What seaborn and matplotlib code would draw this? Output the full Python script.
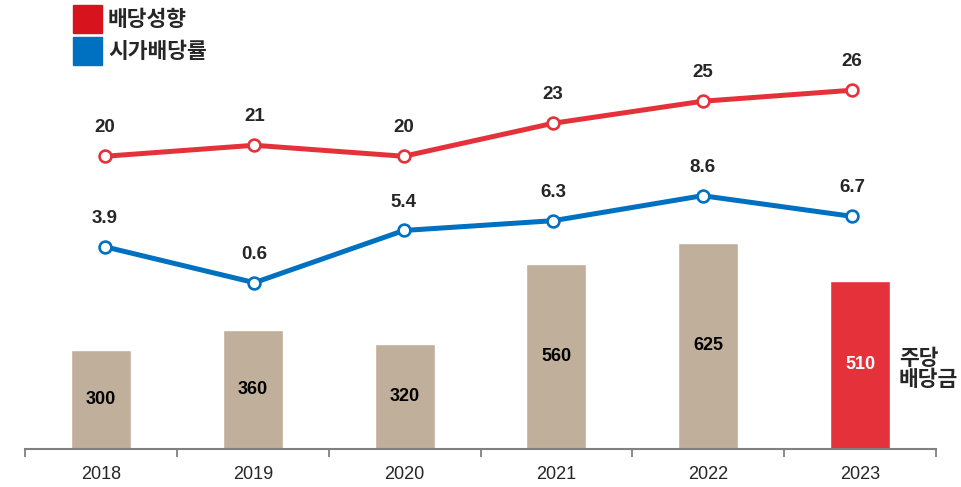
import numpy as np
import pandas as pd
import matplotlib
matplotlib.use("Agg")
import matplotlib.pyplot as plt
import matplotlib.patches as mpatches
import seaborn as sns

# Data
years = ["2018", "2019", "2020", "2021", "2022", "2023"]
dps = [300, 360, 320, 560, 625, 510]          # 주당배당금
payout = [20, 21, 20, 23, 25, 26]             # 배당성향
div_yield = [3.9, 0.6, 5.4, 6.3, 8.6, 6.7]    # 시가배당률
payout_labels = ["20", "21", "20", "23", "25", "26"]
yield_labels = ["3.9", "0.6", "5.4", "6.3", "8.6", "6.7"]
legend_labels = ["배당성향", "시가배당률"]

TAN = "#C0AF9A"
RED = "#E5323A"
BLUE = "#0070C0"
KR = ["Noto Sans CJK KR", "DejaVu Sans"]
NUM = ["Liberation Sans Narrow", "Liberation Sans"]

sns.set_style("white")
plt.rcParams["font.family"] = ["Liberation Sans", "Noto Sans CJK KR", "DejaVu Sans"]

W, H = 961, 487
fig = plt.figure(figsize=(W / 100, H / 100), dpi=100)

# bar axes (x from 25 to 936 px, baseline at y=449)
ax = fig.add_axes([25 / W, (H - 449) / H, 911 / W, 449 / H])
df = pd.DataFrame({"year": years, "dps": dps})
bar_colors = [TAN] * 5 + [RED]
sns.barplot(data=df, x="year", y="dps", hue="year", palette=bar_colors,
            legend=False, width=0.395, ax=ax, saturation=1)
ax.set_ylim(0, 1362)
ax.set_xlim(-0.5, 5.5)
for i, v in enumerate(dps):
    ax.text(i, v / 2, str(v), ha="center", va="center", fontsize=13,
            fontweight="bold", family=NUM,
            color="white" if i == 5 else "black")

for s in ["top", "left", "right"]:
    ax.spines[s].set_visible(False)
ax.spines["bottom"].set_color("#808080")
ax.spines["bottom"].set_linewidth(1.5)
ax.set_yticks([])
ax.set_xticks(np.arange(-0.5, 6, 1))
ax.set_xticklabels([])
ax.tick_params(axis="x", which="major", length=6, width=1.3, color="#808080",
               direction="out", bottom=True)
ax.set_xticks(np.arange(len(years)), minor=True)
ax.set_xticklabels(years, minor=True, fontsize=13, family=NUM)
ax.tick_params(axis="x", which="minor", length=0, pad=12)
ax.set_xlabel("")
ax.set_ylabel("")

# line axes (points from x=105 to 852 px)
x = np.arange(len(years))
line_rect = [30.3 / W, (H - 449) / H, 896.4 / W, 449 / H]


def line_axes(values, labels, color, ylim):
    a = fig.add_axes(line_rect, facecolor="none")
    sns.lineplot(x=x, y=values, ax=a, color=color, linewidth=3.6,
                 marker="o", markersize=8.5, markerfacecolor="white",
                 markeredgecolor=color, markeredgewidth=1.9)
    a.set_xlim(-0.5, 5.5)
    a.set_ylim(*ylim)
    for xi, v, lab in zip(x, values, labels):
        a.annotate(lab, (xi, v), xytext=(0, 20.5), textcoords="offset points",
                   ha="center", va="center", fontsize=13.5, fontweight="bold")
    a.set_xticks([])
    a.set_yticks([])
    a.set_ylabel("")
    for s in a.spines.values():
        s.set_visible(False)
    return a


line_axes(payout, payout_labels, RED, (-6.6, 34.2))
line_axes(div_yield, yield_labels, BLUE, (-14.7, 26.6))

# legend drawn by hand in pixel positions
for (y0, col), lab in zip([(5, "#D7141E"), (37, BLUE)], legend_labels):
    fig.patches.append(mpatches.Rectangle((73 / W, 1 - (y0 + 28) / H), 29 / W, 28 / H,
                                          transform=fig.transFigure,
                                          color=col, figure=fig))
    fig.text(108 / W, 1 - (y0 + 14) / H, lab, ha="left", va="center",
             fontsize=15.5, fontweight="bold", family=KR)

# 주당배당금 label
fig.text(899 / W, 1 - 369 / H, "주당\n배당금", ha="left", va="center",
         fontsize=15.5, fontweight="bold", family=KR, linespacing=1.05)

fig.savefig("out.png", dpi=100)
